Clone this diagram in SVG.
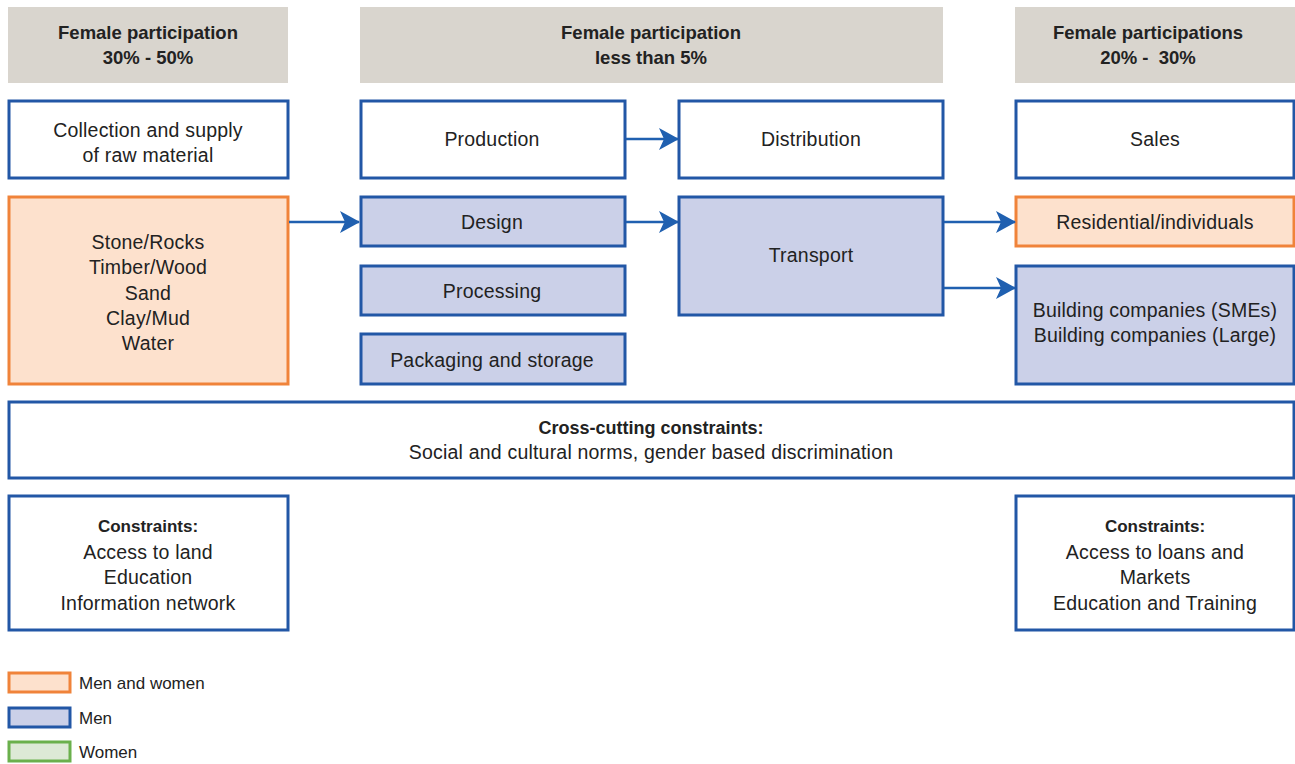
<svg xmlns="http://www.w3.org/2000/svg" width="1295" height="764" viewBox="0 0 1295 764">
<defs>
<style>
.hdr{fill:#d9d5ce}
.w{fill:#fff;stroke:#2257a6;stroke-width:3}
.b{fill:#cbd0e8;stroke:#2257a6;stroke-width:3}
.o{fill:#fde1cd;stroke:#f0833a;stroke-width:3}
.g{fill:#dde9d6;stroke:#6ab04c;stroke-width:3}
text{font-family:"Liberation Sans",Arial,sans-serif;fill:#222;text-anchor:middle;font-size:19.5px;letter-spacing:0.2px}
.bt{font-weight:bold;font-size:18.5px;letter-spacing:0}
.bs{font-weight:bold;font-size:17px;letter-spacing:0}
.bx{font-weight:bold;font-size:18px;letter-spacing:0}
.lg{text-anchor:start;font-size:17px;letter-spacing:0}
.c{stroke:#2060b0;stroke-width:2.5;fill:none}
</style>
<marker id="ah" markerWidth="20" markerHeight="22" viewBox="0 0 20 22" refX="19" refY="11" orient="auto" markerUnits="userSpaceOnUse">
<path d="M0,0 L20,11 L0,22 L5,11 Z" fill="#2060b0"/>
</marker>
</defs>
<g id="hdr-left"><rect class="hdr" x="8" y="7" width="280" height="76"/><text class="bt" x="148" y="39">Female participation</text><text class="bt" x="148" y="64">30% - 50%</text></g>
<g id="hdr-mid"><rect class="hdr" x="360" y="7" width="583" height="76"/><text class="bt" x="651" y="39">Female participation</text><text class="bt" x="651" y="64">less than 5%</text></g>
<g id="hdr-right"><rect class="hdr" x="1015" y="7" width="280" height="76"/><text class="bt" x="1148" y="39">Female participations</text><text class="bt" x="1148" y="64" style="white-space:pre">20% -  30%</text></g>

<g id="collection"><rect class="w" x="9" y="101" width="279" height="77"/><text x="148" y="137">Collection and supply</text><text x="148" y="162">of raw material</text></g>
<g id="production"><rect class="w" x="361" y="101" width="264" height="77"/><text x="492" y="146">Production</text></g>
<g id="distribution"><rect class="w" x="679" y="101" width="264" height="77"/><text x="811" y="146">Distribution</text></g>
<g id="sales"><rect class="w" x="1016" y="101" width="278" height="77"/><text x="1155" y="146">Sales</text></g>

<g id="raw"><rect class="o" x="9" y="197" width="279" height="187"/><text x="148" y="249">Stone/Rocks</text><text x="148" y="274">Timber/Wood</text><text x="148" y="300">Sand</text><text x="148" y="325">Clay/Mud</text><text x="148" y="350">Water</text></g>
<g id="design"><rect class="b" x="361" y="197" width="264" height="49"/><text x="492" y="229">Design</text></g>
<g id="processing"><rect class="b" x="361" y="266" width="264" height="49"/><text x="492" y="298">Processing</text></g>
<g id="packaging"><rect class="b" x="361" y="334" width="264" height="50"/><text x="492" y="367">Packaging and storage</text></g>
<g id="transport"><rect class="b" x="679" y="197" width="264" height="118"/><text x="811" y="262">Transport</text></g>
<g id="residential"><rect class="o" x="1016" y="197" width="278" height="49"/><text x="1155" y="229">Residential/individuals</text></g>
<g id="building"><rect class="b" x="1016" y="266" width="278" height="118"/><text x="1155" y="317">Building companies (SMEs)</text><text x="1155" y="342">Building companies (Large)</text></g>

<g id="crosscut"><rect class="w" x="9" y="402" width="1285" height="76"/><text class="bx" x="651" y="434">Cross-cutting constraints:</text><text x="651" y="459">Social and cultural norms, gender based discrimination</text></g>
<g id="constraints-left"><rect class="w" x="9" y="496" width="279" height="134"/><text class="bs" x="148" y="532">Constraints:</text><text x="148" y="559">Access to land</text><text x="148" y="584">Education</text><text x="148" y="610">Information network</text></g>
<g id="constraints-right"><rect class="w" x="1016" y="496" width="278" height="134"/><text class="bs" x="1155" y="532">Constraints:</text><text x="1155" y="559">Access to loans and</text><text x="1155" y="584">Markets</text><text x="1155" y="610">Education and Training</text></g>

<g id="connectors">
<line class="c" x1="626" y1="139" x2="678" y2="139" marker-end="url(#ah)"/>
<line class="c" x1="289" y1="222" x2="359" y2="222" marker-end="url(#ah)"/>
<line class="c" x1="626" y1="222" x2="678" y2="222" marker-end="url(#ah)"/>
<line class="c" x1="944" y1="222" x2="1015" y2="222" marker-end="url(#ah)"/>
<line class="c" x1="944" y1="288" x2="1015" y2="288" marker-end="url(#ah)"/>
</g>

<g id="legend">
<rect class="o" x="9" y="673" width="61" height="19"/><text class="lg" x="79" y="689">Men and women</text>
<rect class="b" x="9" y="708" width="61" height="19"/><text class="lg" x="79" y="724">Men</text>
<rect class="g" x="9" y="742" width="61" height="19"/><text class="lg" x="79" y="758">Women</text>
</g>
</svg>
